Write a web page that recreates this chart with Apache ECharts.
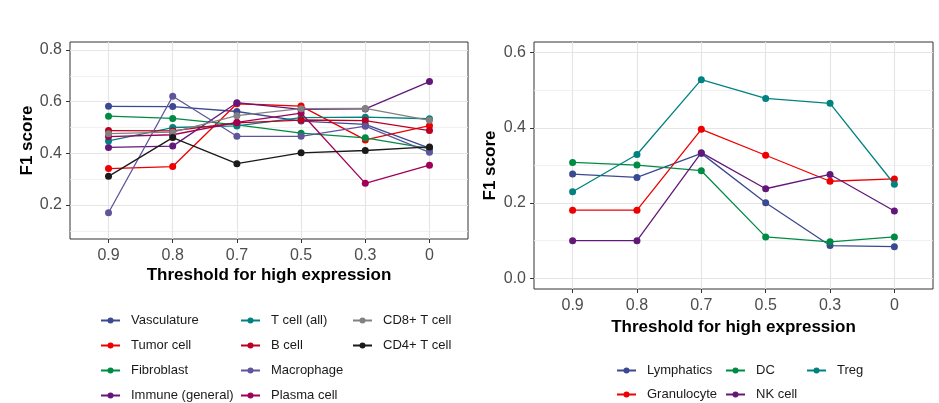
<!DOCTYPE html>
<html>
<head>
<meta charset="utf-8">
<script src="https://cdn.jsdelivr.net/npm/echarts@6/dist/echarts.min.js"></script>
<style>
  html, body { margin: 0; padding: 0; background: #fff; }
  #chart { width: 939px; height: 403px; }
</style>
</head>
<body>
<div id="chart"></div>
<script>
// x categories (threshold for high expression)
var thresholds = ["0.9", "0.8", "0.7", "0.5", "0.3", "0"];

// left panel
var vasculature = [0.582, 0.581, 0.562, 0.525, 0.512, 0.420];
var tumorCell   = [0.341, 0.349, 0.592, 0.583, 0.452, 0.507];
var fibroblast  = [0.544, 0.535, 0.510, 0.478, 0.460, 0.418];
var immuneGen   = [0.423, 0.428, 0.596, 0.570, 0.572, 0.678];
var tCellAll    = [0.448, 0.500, 0.506, 0.538, 0.540, 0.534];
var bCell       = [0.488, 0.487, 0.518, 0.529, 0.527, 0.488];
var macrophage  = [0.170, 0.621, 0.466, 0.466, 0.505, 0.404];
var plasmaCell  = [0.465, 0.472, 0.520, 0.556, 0.284, 0.354];
var cd8TCell    = [0.476, 0.482, 0.546, 0.573, 0.574, 0.528];
var cd4TCell    = [0.311, 0.461, 0.360, 0.402, 0.411, 0.425];

// right panel
var lymphatics  = [0.277, 0.268, 0.332, 0.201, 0.087, 0.084];
var granulocyte = [0.181, 0.181, 0.396, 0.327, 0.258, 0.264];
var dc          = [0.308, 0.301, 0.286, 0.110, 0.097, 0.110];
var nkCell      = [0.100, 0.100, 0.334, 0.238, 0.276, 0.179];
var treg        = [0.230, 0.329, 0.528, 0.478, 0.465, 0.250];

// y tick labels
var leftTicks  = [0.2, 0.4, 0.6, 0.8];
var leftMinor  = [0.1, 0.3, 0.5, 0.7];
var rightTicks = [0.0, 0.2, 0.4, 0.6];
var rightMinor = [0.1, 0.3, 0.5];

var leftSeries = [
  { name: "Vasculature", data: vasculature, color: "#3B4992" },
  { name: "Tumor cell", data: tumorCell, color: "#EE0000" },
  { name: "Fibroblast", data: fibroblast, color: "#008B45" },
  { name: "Immune (general)", data: immuneGen, color: "#631879" },
  { name: "T cell (all)", data: tCellAll, color: "#008280" },
  { name: "B cell", data: bCell, color: "#BB0021" },
  { name: "Macrophage", data: macrophage, color: "#5F559B" },
  { name: "Plasma cell", data: plasmaCell, color: "#A20056" },
  { name: "CD8+ T cell", data: cd8TCell, color: "#808180" },
  { name: "CD4+ T cell", data: cd4TCell, color: "#1B1919" }
];
var rightSeries = [
  { name: "Lymphatics", data: lymphatics, color: "#3B4992" },
  { name: "Granulocyte", data: granulocyte, color: "#EE0000" },
  { name: "DC", data: dc, color: "#008B45" },
  { name: "NK cell", data: nkCell, color: "#631879" },
  { name: "Treg", data: treg, color: "#008280" }
];

var font = "Liberation Sans, Arial, sans-serif";
var idx = [0, 1, 2, 3, 4, 5];

function xAxisFor(grid, gap) {
  return {
    type: "value", gridIndex: grid, min: -0.6, max: 5.6,
    name: "Threshold for high expression", nameLocation: "middle", nameGap: gap,
    nameTextStyle: { fontFamily: font, fontSize: 17, fontWeight: "bold", color: "#000" },
    axisLine: { show: false, onZero: false },
    axisTick: { show: true, length: 4, customValues: idx, lineStyle: { color: "#333" } },
    axisLabel: {
      customValues: idx, margin: 9, fontFamily: font, fontSize: 16, color: "#4d4d4d",
      formatter: function (v) { return thresholds[Math.round(v)]; }
    },
    splitLine: { show: true, lineStyle: { color: "#e5e5e5", width: 1.2 } }
  };
}

function yAxisFor(grid, min, max, ticks, gap) {
  return {
    type: "value", gridIndex: grid, min: min, max: max,
    name: "F1 score", nameLocation: "middle", nameGap: gap,
    nameTextStyle: { fontFamily: font, fontSize: 17, fontWeight: "bold", color: "#000" },
    axisLine: { show: false, onZero: false },
    axisTick: { show: true, length: 4, customValues: ticks, lineStyle: { color: "#333" } },
    axisLabel: {
      customValues: ticks, margin: 8, fontFamily: font, fontSize: 16, color: "#4d4d4d",
      formatter: function (v) { return v.toFixed(1); }
    },
    splitLine: { show: true, lineStyle: { color: "#e5e5e5", width: 1.2 } }
  };
}

// second y axis, only for the minor grid lines
function minorAxisFor(grid, min, max, ticks) {
  return {
    type: "value", gridIndex: grid, min: min, max: max, position: "left",
    axisLine: { show: false, onZero: false },
    axisTick: { show: false, customValues: ticks },
    axisLabel: { show: false },
    splitLine: { show: true, lineStyle: { color: "#ededed", width: 0.8 } }
  };
}

function toSeries(list, xi, yi) {
  return list.map(function (s) {
    return {
      name: s.name, type: "line", xAxisIndex: xi, yAxisIndex: yi,
      data: s.data.map(function (v, i) { return [i, v]; }),
      symbol: "circle", symbolSize: 7,
      lineStyle: { width: 1.3, color: s.color },
      itemStyle: { color: s.color },
      emphasis: { disabled: true }
    };
  });
}

function legendCol(names, left, top, gap) {
  return {
    orient: "vertical", left: left, top: top, height: 150, padding: 0,
    itemWidth: 19, itemHeight: 7.5, itemGap: gap,
    data: names, selectedMode: false,
    textStyle: { fontFamily: font, fontSize: 13, color: "#1a1a1a", padding: [0, 0, 0, 6] }
  };
}

var chart = echarts.init(document.getElementById("chart"));
chart.setOption({
  animation: false,
  backgroundColor: "#fff",
  grid: [
    { left: 70, top: 42, width: 398, height: 197, show: true, borderColor: "#333", borderWidth: 1 },
    { left: 534, top: 42, width: 399, height: 247, show: true, borderColor: "#333", borderWidth: 1 }
  ],
  xAxis: [xAxisFor(0, 27.5), xAxisFor(1, 26)],
  yAxis: [
    yAxisFor(0, 0.0685, 0.831, leftTicks, 34.5),
    minorAxisFor(0, 0.0685, 0.831, leftMinor),
    yAxisFor(1, -0.0284, 0.628, rightTicks, 35.5),
    minorAxisFor(1, -0.0284, 0.628, rightMinor)
  ],
  legend: [
    legendCol(["Vasculature", "Tumor cell", "Fibroblast", "Immune (general)"], 100, 314, 12),
    legendCol(["T cell (all)", "B cell", "Macrophage", "Plasma cell"], 240, 314, 12),
    legendCol(["CD8+ T cell", "CD4+ T cell"], 352, 314, 12),
    legendCol(["Lymphatics", "Granulocyte"], 616, 364, 11),
    legendCol(["DC", "NK cell"], 725, 364, 11),
    legendCol(["Treg"], 806, 364, 11)
  ],
  series: toSeries(leftSeries, 0, 0).concat(toSeries(rightSeries, 1, 2))
});
</script>
</body>
</html>
